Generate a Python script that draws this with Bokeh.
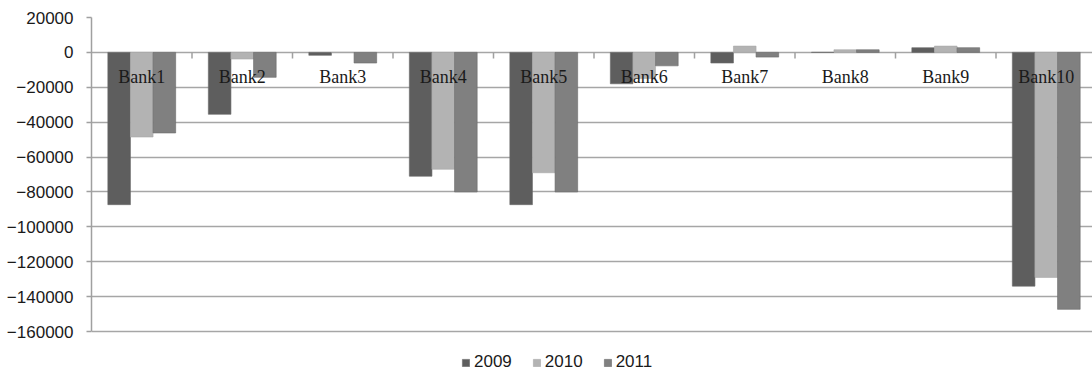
import numpy as np
from bokeh.plotting import figure
from bokeh.models import (Range1d, FixedTicker, ColumnDataSource, Legend, LegendItem,
                          BasicTickFormatter)
from bokeh.core.properties import value
from bokeh.embed import file_html
from bokeh.resources import INLINE

banks = ["Bank1", "Bank2", "Bank3", "Bank4", "Bank5", "Bank6", "Bank7", "Bank8", "Bank9", "Bank10"]
years = ["2009", "2010", "2011"]
v2009 = [-87300, -35500, -1700, -71000, -87300, -18000, -6100, 0, 2700, -134000]
v2010 = [-48500, -3800, 0, -67000, -69000, -15000, 3600, 1500, 3600, -129000]
v2011 = [-46200, -14300, -6100, -80000, -80000, -7700, -2700, 1500, 2700, -147300]
y_ticks = [20000, 0, -20000, -40000, -60000, -80000, -100000, -120000, -140000, -160000]
colors = ["#5e5e5e", "#b3b3b3", "#808080"]

SERIF = "Liberation Serif"
SANS = "Liberation Sans"

W, H = 1092, 372
TOP, LEFT = 17, 91
AXIS_PX = 314      # pixel height of the value axis span
CAT_PX = 100.5     # pixel width of one category
n = len(banks)
centers = np.arange(n) + 0.5
bounds = np.arange(1, n)
bar_w = 0.225

ymax = max(y_ticks)
span = ymax - min(y_ticks)
ymin = ymax - span * (H - TOP) / AXIS_PX
xmax = (W - LEFT) / CAT_PX

p = figure(width=W, height=H, output_backend="svg", toolbar_location=None,
           x_range=Range1d(0, xmax), y_range=Range1d(ymin, ymax),
           min_border_left=LEFT, min_border_right=0, min_border_top=TOP, min_border_bottom=0)
p.outline_line_color = None
p.background_fill_color = "white"
p.border_fill_color = "white"

series = [v2009, v2010, v2011]
renderers = []
for i, (yr, vals) in enumerate(zip(years, series)):
    xs = centers + (i - 1) * bar_w
    s = ColumnDataSource(dict(x=xs, top=vals))
    r = p.vbar(x="x", top="top", bottom=0, width=bar_w, source=s,
               fill_color=colors[i], line_color="#6a6a6a" if i != 1 else "#a8a8a8", line_width=0.6)
    renderers.append(r)

# grid
p.xgrid.visible = False
p.ygrid.ticker = FixedTicker(ticks=y_ticks)
p.ygrid.grid_line_color = "#a6a6a6"
p.ygrid.grid_line_width = 1.5

# y axis
ya = p.yaxis[0]
ya.ticker = FixedTicker(ticks=y_ticks)
ya.bounds = (min(y_ticks), max(y_ticks))
ya.formatter = BasicTickFormatter(use_scientific=False)
ya.axis_line_color = "#a0a0a0"
ya.axis_line_width = 1.5
ya.major_tick_line_color = "#a0a0a0"
ya.major_tick_line_width = 1.5
ya.major_tick_out = 5
ya.major_tick_in = 0
ya.minor_tick_line_color = None
ya.major_label_text_font = SANS
ya.major_label_text_font_size = "17px"
ya.major_label_text_color = "#1a1a1a"
ya.major_label_standoff = 13

# category axis drawn at zero
p.xaxis.visible = False
zero_src = ColumnDataSource(dict(x=centers, y=np.zeros(n), t=banks))
p.text(x="x", y="y", text="t", source=zero_src, text_align="center", text_baseline="middle",
       y_offset=25, text_font=value(SERIF), text_font_size="18px", text_color="#1a1a1a")
tick_src = ColumnDataSource(dict(x=bounds, y=np.zeros(len(bounds))))
p.ray(x="x", y="y", length=6, length_units="screen", angle=-np.pi / 2, source=tick_src,
      line_color="#a0a0a0", line_width=1.5)

legend = Legend(items=[LegendItem(label=y, renderers=[r]) for y, r in zip(years, renderers)],
                orientation="horizontal", location=(370, 0),
                label_text_font=SANS, label_text_font_size="17px", label_text_color="#1a1a1a",
                glyph_width=9, glyph_height=9, label_standoff=4, spacing=20,
                padding=4, margin=0, border_line_color=None, background_fill_alpha=0)
p.add_layout(legend)

open("out.html", "w").write(file_html(p, INLINE))
